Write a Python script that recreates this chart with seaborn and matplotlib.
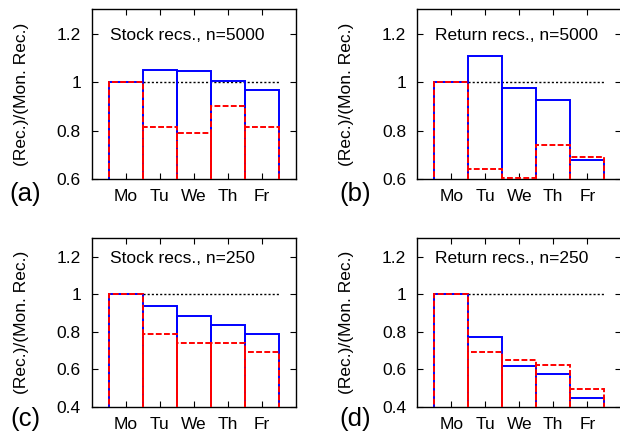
import matplotlib
matplotlib.use("Agg")
import matplotlib.pyplot as plt
import seaborn as sns
import pandas as pd

days = ["Mo", "Tu", "We", "Th", "Fr"]

# panel (a): Stock recs., n=5000
stock5000_blue = [1.000, 1.052, 1.044, 1.004, 0.966]
stock5000_red = [1.000, 0.817, 0.791, 0.900, 0.814]
# panel (b): Return recs., n=5000
return5000_blue = [1.000, 1.107, 0.977, 0.926, 0.681]
return5000_red = [1.000, 0.641, 0.604, 0.743, 0.691]
# panel (c): Stock recs., n=250
stock250_blue = [1.000, 0.938, 0.885, 0.838, 0.788]
stock250_red = [1.000, 0.790, 0.741, 0.741, 0.691]
# panel (d): Return recs., n=250
return250_blue = [1.000, 0.772, 0.617, 0.576, 0.449]
return250_red = [1.000, 0.691, 0.649, 0.622, 0.497]

titles = ["Stock recs., n=5000", "Return recs., n=5000",
          "Stock recs., n=250", "Return recs., n=250"]
panel_labels = ["(a)", "(b)", "(c)", "(d)"]
ylabel = "(Rec.)/(Mon. Rec.)"
yticks_top = [0.6, 0.8, 1.0, 1.2]
yticks_bottom = [0.4, 0.6, 0.8, 1.0, 1.2]
yticklabels_top = ["0.6", "0.8", "1", "1.2"]
yticklabels_bottom = ["0.4", "0.6", "0.8", "1", "1.2"]

sns.set_style("ticks")
plt.rcParams["font.family"] = ["Liberation Sans", "DejaVu Sans"]
plt.rcParams["text.color"] = "black"
plt.rcParams["xtick.color"] = "black"
plt.rcParams["ytick.color"] = "black"
plt.rcParams["axes.labelcolor"] = "black"

fig = plt.figure(figsize=(6.2, 4.32), dpi=100)

top_b, top_h = 1 - 179.3 / 432, 170 / 432
bot_b, bot_h = 1 - 407 / 432, 169.3 / 432
left_l, right_l, w = 92 / 620, 417.3 / 620, 204 / 620

rects = [(left_l, top_b, w, top_h), (right_l, top_b, w, top_h),
         (left_l, bot_b, w, bot_h), (right_l, bot_b, w, bot_h)]
blues = [stock5000_blue, return5000_blue, stock250_blue, return250_blue]
reds = [stock5000_red, return5000_red, stock250_red, return250_red]
ylims = [(0.6, 1.3), (0.6, 1.3), (0.4, 1.3), (0.4, 1.3)]
ytk = [yticks_top, yticks_top, yticks_bottom, yticks_bottom]
ytl = [yticklabels_top, yticklabels_top, yticklabels_bottom, yticklabels_bottom]
plabel_pos = [(9 / 620, 1 - 194 / 432), (339 / 620, 1 - 194 / 432),
              (10 / 620, 1 - 419 / 432), (339 / 620, 1 - 419 / 432)]

for i in range(4):
    ax = fig.add_axes(rects[i])
    ax.hlines(1.0, 0.5, len(days) - 0.5, colors="black",
              linestyles=(0, (1.5, 1.5)), linewidth=1.0, zorder=1)
    dfb = pd.DataFrame({"day": days, "val": blues[i]})
    dfr = pd.DataFrame({"day": days, "val": reds[i]})
    sns.barplot(data=dfb, x="day", y="val", color="#0000ff", fill=False,
                width=1.0, linewidth=1.4, errorbar=None, ax=ax, zorder=2)
    sns.barplot(data=dfr, x="day", y="val", color="#ff0000", fill=False,
                width=1.0, linewidth=1.4, errorbar=None, ax=ax,
                linestyle=(0, (3, 1.2)), zorder=3)
    ax.set_xlim(-1, 5)
    ax.set_ylim(*ylims[i])
    ax.set_yticks(ytk[i])
    ax.set_yticklabels(ytl[i])
    ax.set_xlabel("")
    ax.set_ylabel("")
    ax.tick_params(direction="in", top=True, right=True, length=4,
                   width=0.8, labelsize=12.5, colors="black")
    ax.tick_params(axis="y", pad=8)
    ax.tick_params(axis="x", pad=7)
    for s in ax.spines.values():
        s.set_visible(True)
        s.set_linewidth(1.0)
        s.set_color("black")
    ax.text(0.088, 1.2, titles[i], transform=ax.get_yaxis_transform(),
            ha="left", va="center_baseline", fontsize=12.5, color="black")
    ax.text(-0.348, 0.5, ylabel, transform=ax.transAxes, rotation=90,
            ha="center", va="center", fontsize=12.5, color="black")
    fig.text(plabel_pos[i][0], plabel_pos[i][1], panel_labels[i],
             ha="left", va="center", fontsize=18.5, color="black")

fig.savefig("out.png", dpi=100)
